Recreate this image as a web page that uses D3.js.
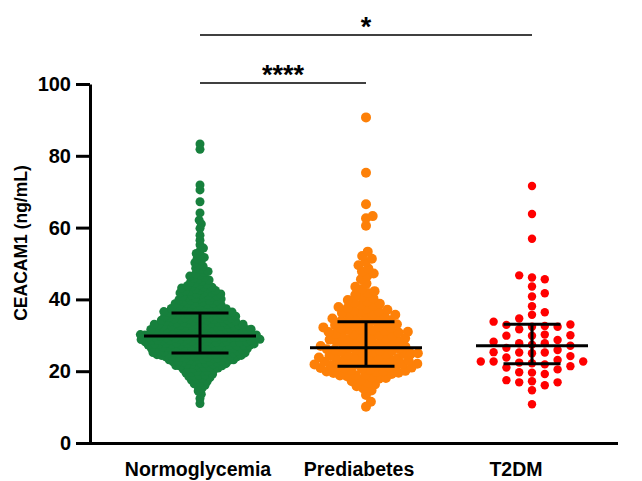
<!DOCTYPE html>
<html>
<head>
<meta charset="utf-8">
<script src="https://cdn.jsdelivr.net/npm/d3@7"></script>
<style>
  body { margin: 0; background: #fff; }
  svg { display: block; font-family: "Liberation Sans", Arial, sans-serif; }
</style>
</head>
<body>
<svg id="chart"></svg>
<script>
// groups and summary values (median with interquartile range)
const groups = ["Normoglycemia", "Prediabetes", "T2DM"];
const medians = [29.8, 26.5, 27.1];
const q1 = [25.1, 21.4, 22.1];
const q3 = [36.2, 33.8, 33.1];
const yTicks = [0, 20, 40, 60, 80, 100];

// significance brackets: from group, to group, label
const sigFrom = ["Normoglycemia", "Normoglycemia"];
const sigTo = ["Prediabetes", "T2DM"];
const sigLabels = ["****", "*"];

const normoglycemia = [
  11.0, 12.4, 13.6, 14.5, 15.2, 15.8,
  16.1, 16.5, 16.9, 17.2, 17.5, 17.8,
  18.0, 18.2, 18.5, 18.7, 18.9,
  19.0, 19.2, 19.5, 19.7, 19.9,
  20.0, 20.1, 20.4, 20.5, 20.7, 20.8, 20.9,
  21.0, 21.1, 21.2, 21.4, 21.5, 21.6, 21.8, 21.9, 21.9,
  22.0, 22.1, 22.2, 22.3, 22.4, 22.5, 22.6, 22.7, 22.8, 22.9, 22.9,
  23.0, 23.1, 23.2, 23.2, 23.3, 23.4, 23.5, 23.6, 23.7, 23.8, 23.8, 23.9, 23.9,
  24.0, 24.0, 24.1, 24.2, 24.2, 24.3, 24.4, 24.4, 24.5, 24.6, 24.6, 24.7, 24.8, 24.8, 24.9, 24.9,
  25.0, 25.0, 25.1, 25.1, 25.2, 25.3, 25.3, 25.4, 25.5, 25.5, 25.6, 25.7, 25.7, 25.8, 25.8, 25.9, 25.9,
  26.0, 26.0, 26.1, 26.1, 26.2, 26.2, 26.3, 26.4, 26.4, 26.5, 26.5, 26.6, 26.7, 26.7, 26.8, 26.8, 26.9, 26.9,
  27.0, 27.0, 27.1, 27.1, 27.2, 27.2, 27.3, 27.3, 27.4, 27.5, 27.5, 27.6, 27.6, 27.7, 27.7, 27.8, 27.8, 27.9, 27.9,
  28.0, 28.0, 28.1, 28.1, 28.2, 28.2, 28.3, 28.3, 28.4, 28.4, 28.5, 28.5, 28.6, 28.6, 28.7, 28.7, 28.8, 28.8, 28.9, 28.9,
  29.0, 29.0, 29.1, 29.1, 29.2, 29.2, 29.3, 29.3, 29.4, 29.4, 29.5, 29.5, 29.5, 29.6, 29.6, 29.7, 29.7, 29.8, 29.8, 29.9, 29.9,
  30.0, 30.0, 30.1, 30.1, 30.2, 30.2, 30.3, 30.4, 30.4, 30.5, 30.5, 30.6, 30.7, 30.7, 30.8, 30.8, 30.9, 30.9, 30.9,
  31.0, 31.0, 31.1, 31.2, 31.2, 31.3, 31.3, 31.4, 31.4, 31.5, 31.6, 31.6, 31.7, 31.8, 31.8, 31.9, 31.9,
  32.0, 32.0, 32.1, 32.2, 32.2, 32.3, 32.4, 32.4, 32.5, 32.6, 32.6, 32.7, 32.8, 32.8, 32.9, 32.9,
  33.0, 33.1, 33.1, 33.2, 33.3, 33.4, 33.4, 33.5, 33.5, 33.6, 33.7, 33.7, 33.8, 33.9, 33.9,
  34.0, 34.1, 34.2, 34.2, 34.3, 34.4, 34.5, 34.5, 34.6, 34.7, 34.8, 34.8, 34.9, 34.9,
  35.0, 35.1, 35.2, 35.3, 35.3, 35.4, 35.5, 35.6, 35.7, 35.7, 35.8, 35.9, 35.9,
  36.0, 36.1, 36.2, 36.3, 36.4, 36.5, 36.5, 36.6, 36.7, 36.8, 36.9, 36.9,
  37.0, 37.1, 37.2, 37.3, 37.4, 37.5, 37.6, 37.7, 37.8, 37.9,
  38.0, 38.1, 38.3, 38.4, 38.5, 38.6, 38.7, 38.8, 38.9,
  39.0, 39.2, 39.3, 39.4, 39.6, 39.7, 39.8, 39.9,
  40.1, 40.2, 40.4, 40.5, 40.6, 40.7, 40.8, 40.9,
  41.1, 41.2, 41.4, 41.5, 41.6, 41.8, 41.9,
  42.1, 42.3, 42.4, 42.5, 42.7, 42.9,
  43.0, 43.2, 43.4, 43.5, 43.6, 43.8,
  44.1, 44.3, 44.6, 44.8,
  45.1, 45.4, 45.6, 45.9,
  46.2, 46.5, 46.8, 47.1, 47.5, 47.8,
  48.3, 48.7, 49.2, 49.7, 50.2, 50.8, 51.3, 51.7, 52.2, 52.8, 53.5, 54.3,
  55.2, 56.5, 57.9, 59.8, 61.0, 62.1, 64.1, 67.2, 70.5, 71.9, 81.8, 83.3
];

const prediabetes = [
  10.1, 11.5, 13.4, 14.6, 15.2, 15.8, 16.3, 16.8,
  17.2, 17.5, 17.9,
  18.1, 18.3, 18.6, 18.8, 18.9,
  19.0, 19.2, 19.5, 19.6, 19.8, 19.9,
  20.0, 20.1, 20.3, 20.5, 20.7, 20.8, 20.9,
  21.0, 21.1, 21.2, 21.5, 21.6, 21.7, 21.8, 21.9,
  22.0, 22.1, 22.2, 22.5, 22.6, 22.7, 22.8, 22.9,
  23.0, 23.2, 23.3, 23.6, 23.7, 23.8, 23.9,
  24.0, 24.1, 24.3, 24.5, 24.7, 24.8, 24.9,
  25.0, 25.2, 25.3, 25.5, 25.7, 25.8, 25.9,
  26.0, 26.1, 26.3, 26.5, 26.6, 26.8, 26.9,
  27.0, 27.2, 27.3, 27.6, 27.8, 27.9,
  28.0, 28.2, 28.3, 28.6, 28.8, 28.9,
  29.1, 29.2, 29.4, 29.6, 29.8, 29.9,
  30.1, 30.3, 30.4, 30.6, 30.8, 30.9,
  31.0, 31.2, 31.4, 31.5, 31.7, 31.9,
  32.1, 32.2, 32.4, 32.6, 32.8, 32.9,
  33.1, 33.3, 33.5, 33.7, 33.9,
  34.0, 34.2, 34.5, 34.7, 34.9,
  35.1, 35.3, 35.5, 35.7, 35.9,
  36.2, 36.4, 36.7, 36.9,
  37.1, 37.4, 37.6, 37.9,
  38.2, 38.5, 38.8, 39.1, 39.4, 39.8,
  40.3, 40.7, 41.2, 41.8, 42.3, 42.9,
  43.5, 44.4, 45.6, 46.5, 47.2, 47.8, 48.6, 49.5, 50.4, 51.3, 52.1, 53.3,
  60.5, 62.6, 63.2, 66.5, 75.3, 90.7
];

const t2dm = [
  10.8, 14.7, 16.1, 16.9, 16.9, 17.2, 17.5,
  19.2, 19.6, 19.7, 20.5, 21.0, 21.4, 21.9,
  22.2, 22.4, 22.7, 22.7, 22.7, 23.1, 23.8, 24.2,
  25.0, 25.2, 25.2, 25.3, 25.9, 26.5, 27.1, 27.4, 27.8, 27.8,
  28.2, 28.7, 29.9, 29.9, 30.0, 30.2, 31.7,
  32.4, 32.4, 32.6, 32.9, 33.0, 33.8, 34.7, 35.7, 36.4,
  38.1, 40.8, 41.7, 43.6, 45.6, 46.1, 46.7,
  56.9, 63.8, 71.6
];

const series = [normoglycemia, prediabetes, t2dm];
const colors = ["#17803d", "#fd8008", "#ff0000"];
const radius = [4.5, 5, 4.2];
const spacing = [4.5, 7, 8.6];   // min distance between dot centres
const column = [0, 0, 12.8];     // fixed column step (0 = free swarm)
const labelShift = [-2, -7, -16];

const width = 642;
const height = 481;

const svg = d3.select("#chart")
  .attr("width", width)
  .attr("height", height);

const y = d3.scaleLinear().domain([0, 100]).range([443, 84]);
const x = d3.scalePoint().domain(groups).range([200, 532]);

// simple greedy beeswarm, returns x offsets
function swarm(values, s, step) {
  const placed = [];
  const sorted = values.slice().sort((a, b) => a - b);
  sorted.forEach((v) => {
    const py = y(v);
    const near = placed.filter((p) => Math.abs(p.y - py) < s);
    let cands = [];
    if (step) {
      cands.push(0);
      for (let k = 1; k < 30; k++) cands.push(k * step, -k * step);
    } else {
      cands.push(0);
      near.forEach((p) => {
        const dx = Math.sqrt(s * s - (p.y - py) * (p.y - py));
        cands.push(p.x + dx, p.x - dx);
      });
      cands.sort((a, b) => Math.abs(a) - Math.abs(b));
    }
    let cx = 0;
    for (const c of cands) {
      const ok = near.every((p) => {
        if (step) return Math.abs(p.x - c) > 0.01;
        return (p.x - c) * (p.x - c) + (p.y - py) * (p.y - py) >= s * s - 0.01;
      });
      if (ok) { cx = c; break; }
    }
    placed.push({ x: cx, y: py, v: v });
  });
  return placed;
}

// axes
const yAxis = svg.append("g")
  .attr("transform", "translate(90,0)")
  .call(d3.axisLeft(y).tickValues(yTicks).tickSize(14).tickSizeOuter(0).tickPadding(5));
yAxis.attr("font-family", null);
yAxis.select(".domain").attr("stroke", "#000").attr("stroke-width", 3);
yAxis.selectAll(".tick line").attr("stroke", "#000").attr("stroke-width", 3);
yAxis.selectAll(".tick text")
  .attr("fill", "#000")
  .attr("font-size", 20)
  .attr("font-weight", "bold");

svg.append("line")
  .attr("x1", 88.5)
  .attr("x2", 618)
  .attr("y1", y(0) + 0.5)
  .attr("y2", y(0) + 0.5)
  .attr("stroke", "#000")
  .attr("stroke-width", 3);

svg.append("text")
  .attr("transform", `translate(27,243) rotate(-90)`)
  .attr("text-anchor", "middle")
  .attr("font-size", 17.5)
  .attr("font-weight", "bold")
  .text("CEACAM1 (ng/mL)");

// group labels
svg.selectAll(".glabel")
  .data(groups)
  .enter()
  .append("text")
  .attr("class", "glabel")
  .attr("x", (d, i) => x(d) + labelShift[i])
  .attr("y", 476)
  .attr("text-anchor", "middle")
  .attr("font-size", 19.5)
  .attr("font-weight", "bold")
  .text((d) => d);

// dots
groups.forEach((g, i) => {
  const pts = swarm(series[i], spacing[i], column[i]);
  svg.append("g")
    .selectAll("circle")
    .data(pts)
    .enter()
    .append("circle")
    .attr("cx", (d) => x(g) + d.x)
    .attr("cy", (d) => d.y)
    .attr("r", radius[i])
    .attr("fill", colors[i]);
});

// median and interquartile range
const medianHalf = 56;
const capHalf = 28.5;
const bars = svg.append("g").attr("stroke", "#000").attr("stroke-width", 3);
groups.forEach((g, i) => {
  const cx = x(g);
  bars.append("line")
    .attr("x1", cx - medianHalf).attr("x2", cx + medianHalf)
    .attr("y1", y(medians[i])).attr("y2", y(medians[i]));
  bars.append("line")
    .attr("x1", cx).attr("x2", cx)
    .attr("y1", y(q1[i])).attr("y2", y(q3[i]));
  bars.append("line")
    .attr("x1", cx - capHalf).attr("x2", cx + capHalf)
    .attr("y1", y(q1[i])).attr("y2", y(q1[i]));
  bars.append("line")
    .attr("x1", cx - capHalf).attr("x2", cx + capHalf)
    .attr("y1", y(q3[i])).attr("y2", y(q3[i]));
});

// significance brackets
const sigY = [83, 35];
sigLabels.forEach((lab, i) => {
  const x1 = x(sigFrom[i]);
  const x2 = x(sigTo[i]);
  svg.append("line")
    .attr("x1", x1).attr("x2", x2)
    .attr("y1", sigY[i]).attr("y2", sigY[i])
    .attr("stroke", "#000")
    .attr("stroke-width", 1.5);
  svg.append("text")
    .attr("x", (x1 + x2) / 2)
    .attr("y", sigY[i] + 1)
    .attr("text-anchor", "middle")
    .attr("font-size", 27)
    .attr("font-weight", "bold")
    .text(lab);
});
</script>
</body>
</html>
